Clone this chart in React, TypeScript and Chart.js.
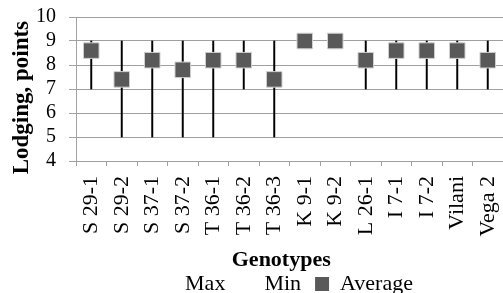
import React, { useEffect, useRef } from "react";
import { Chart, registerables } from "chart.js";

Chart.register(...registerables);

const categories = ["S 29-1", "S 29-2", "S 37-1", "S 37-2", "T 36-1", "T 36-2", "T 36-3", "K 9-1", "K 9-2", "L 26-1", "I 7-1", "I 7-2", "Vilani", "Vega 2"];
const maxValues = [9, 9, 9, 9, 9, 9, 9, 9, 9, 9, 9, 9, 9, 9];
const minValues = [7, 5, 5, 5, 5, 7, 5, 9, 9, 7, 7, 7, 7, 7];
const averageValues = [8.6, 7.4, 8.2, 7.8, 8.2, 8.2, 7.4, 9, 9, 8.2, 8.6, 8.6, 8.6, 8.2];
const yTicks = [4, 5, 6, 7, 8, 9, 10];

const FONT = "'Liberation Serif', 'Times New Roman', serif";
const GRID = "#a0a0a0";

const legendShift = {
  id: "legendShift",
  afterLayout(chart: any) {
    const lg = chart.legend;
    if (lg) {
      lg.left += 35;
      lg.right += 35;
    }
  },
};

export default function App() {
  const ref = useRef<HTMLCanvasElement>(null);
  useEffect(() => {
    document.body.style.margin = "0";
    Chart.defaults.font.family = FONT;
    const ctx = ref.current!;
    const chart = new Chart(ctx, {
      data: {
        labels: categories,
        datasets: [
          {
            type: "bar",
            label: "range",
            data: categories.map((_, i) => [minValues[i], maxValues[i]]),
            backgroundColor: "#000000",
            barThickness: 1.3,
            order: 3,
          } as any,
          {
            type: "line",
            label: "Max",
            data: maxValues,
            showLine: false,
            pointRadius: 0,
            order: 2,
          },
          {
            type: "line",
            label: "Min",
            data: minValues,
            showLine: false,
            pointRadius: 0,
            order: 2,
          },
          {
            type: "line",
            label: "Average",
            data: averageValues,
            showLine: false,
            pointStyle: "rect",
            pointRadius: 11,
            backgroundColor: "#595959",
            borderColor: "#d0d0d0",
            borderWidth: 1,
            order: 1,
          },
        ],
      },
      plugins: [legendShift],
      options: {
        responsive: false,
        animation: false,
        layout: { autoPadding: false, padding: { top: 17, right: 0, left: 0, bottom: -12 } },
        plugins: {
          tooltip: { enabled: false },
          legend: {
            position: "bottom",
            labels: {
              font: { family: FONT, size: 22 },
              color: "#000",
              boxWidth: 14,
              boxHeight: 14,
              padding: 14,
              sort: (a: any, b: any) => a.datasetIndex - b.datasetIndex,
              filter: (item: any) => item.text !== "range",
              generateLabels: (chart: any) => {
                const items = Chart.defaults.plugins.legend.labels.generateLabels(chart);
                return items.map((it: any) => {
                  if (it.text === "Average") {
                    return { ...it, fillStyle: "#595959", strokeStyle: "#595959", lineWidth: 0 };
                  }
                  return { ...it, fillStyle: "rgba(0,0,0,0)", strokeStyle: "rgba(0,0,0,0)", lineWidth: 0 };
                });
              },
            },
          },
        },
        scales: {
          x: {
            type: "category",
            offset: true,
            afterFit: (scale: any) => {
              scale.height = 98;
              scale.paddingLeft = 0;
              scale.paddingRight = 0;
            },
            grid: {
              offset: true,
              drawOnChartArea: false,
              drawTicks: true,
              tickLength: 5,
              color: GRID,
            },
            border: { color: GRID },
            ticks: {
              font: { family: FONT, size: 22 },
              color: "#000",
              minRotation: 90,
              maxRotation: 90,
              autoSkip: false,
              padding: 10,
            },
            title: {
              display: true,
              text: "Genotypes   ",
              font: { family: FONT, size: 22, weight: "bold" },
              color: "#000",
              padding: { top: 0, bottom: -15 },
            },
          },
          y: {
            min: 4,
            max: 10,
            afterFit: (scale: any) => {
              scale.width = 76;
              scale.paddingTop = 0;
              scale.paddingBottom = 0;
            },
            afterBuildTicks: (axis: any) => {
              axis.ticks = yTicks.map((v) => ({ value: v }));
            },
            grid: { color: GRID, tickLength: 7 },
            border: { color: GRID },
            ticks: {
              font: { family: FONT, size: 20 },
              color: "#000",
              padding: 13,
              autoSkip: false,
            },
            title: {
              display: true,
              text: "Lodging, points   ",
              font: { family: FONT, size: 23, weight: "bold" },
              color: "#000",
              padding: { top: 8, bottom: 0 },
            },
          },
        },
      },
    });
    return () => chart.destroy();
  }, []);
  return <canvas ref={ref} width={503} height={293} style={{ display: "block" }} />;
}
